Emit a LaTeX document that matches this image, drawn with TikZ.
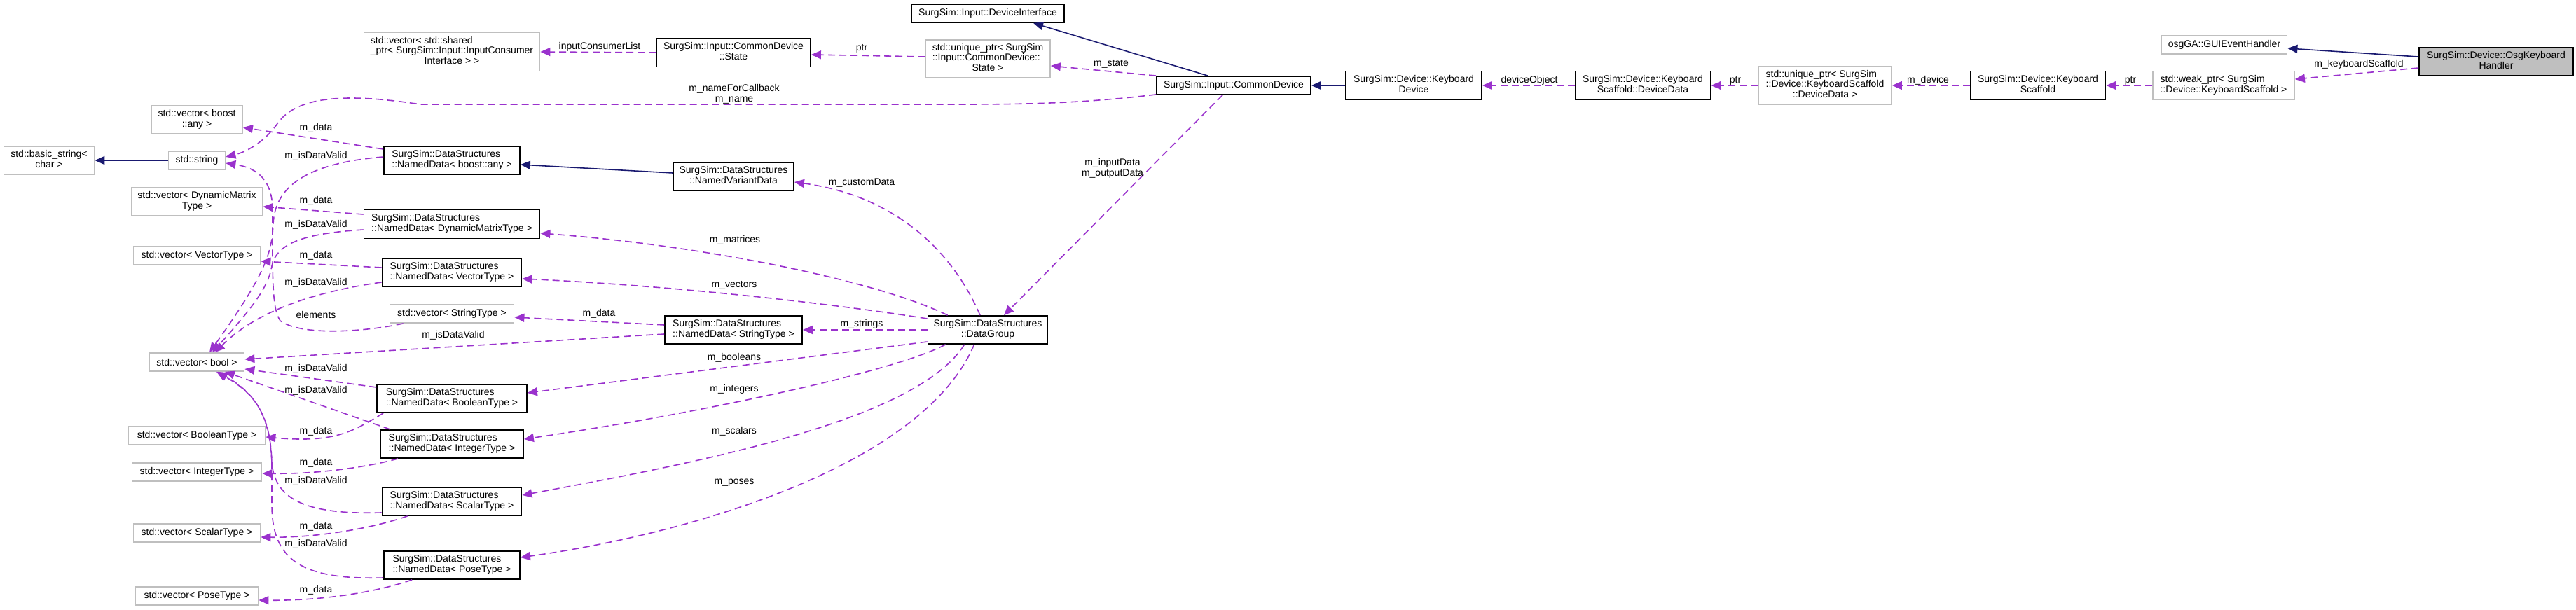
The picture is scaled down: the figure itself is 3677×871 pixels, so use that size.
\documentclass[tikz,border=0pt]{standalone}
\usepackage{fontspec}
\setmainfont{Liberation Sans}
\usepackage{tikz}
\usetikzlibrary{arrows.meta,calc}
\definecolor{inhcol}{HTML}{191970}
\definecolor{usecol}{HTML}{9A32CD}
\definecolor{extgray}{HTML}{BFBFBF}
\newcommand{\dgfont}{\fontsize{7}{7.4}\selectfont}
\newcommand{\twoln}[2]{\begin{tabular}{@{}l@{}}#1\\\multicolumn{1}{@{}c@{}}{#2}\end{tabular}}

\begin{document}
\begin{tikzpicture}[x=0.5pt, y=-0.5pt,
  cls/.style={draw=black, line width=0.9pt, fill=white, inner xsep=3pt, inner ysep=0pt, minimum height=13pt, font=\dgfont},
  ext/.style={cls, draw=extgray},
  root/.style={cls, fill=extgray},
  use/.style={draw=usecol, line width=0.8pt, dash pattern=on 5pt off 3pt, -{Triangle[length=7pt,width=6pt]}},
  inh/.style={draw=inhcol, line width=0.8pt, -{Triangle[length=7pt,width=6pt]}},
  elab/.style={font=\dgfont, inner sep=0pt}]
\useasboundingbox (0,0) rectangle (3677,871);

\node[root, minimum width=110pt, minimum height=20pt] (hdl) at (3563,88) {\twoln{SurgSim::Device::OsgKeyboard}{Handler}};
\node[ext, minimum width=89.5pt] (gui) at (3175,64) {osgGA::GUIEventHandler};
\node[ext, minimum width=101pt, minimum height=20.5pt] (weakp) at (3174,122) {\twoln{std::weak\_ptr< SurgSim}{::Device::KeyboardScaffold >}};
\node[cls, minimum width=96.5pt, minimum height=20.5pt] (scaf) at (2909,122) {\twoln{SurgSim::Device::Keyboard}{Scaffold}};
\node[ext, minimum width=95pt, minimum height=27.5pt] (uniqd) at (2605,122) {\twoln{std::unique\_ptr< SurgSim\\::Device::KeyboardScaffold}{::DeviceData >}};
\node[cls, minimum width=96.5pt, minimum height=20.5pt] (ddata) at (2345,122) {\twoln{SurgSim::Device::Keyboard}{Scaffold::DeviceData}};
\node[cls, minimum width=97pt, minimum height=20.5pt] (kdev) at (2018,122) {\twoln{SurgSim::Device::Keyboard}{Device}};
\node[cls, minimum width=110pt] (cdev) at (1761,122) {SurgSim::Input::CommonDevice};
\node[cls, minimum width=109pt] (dint) at (1410,19) {SurgSim::Input::DeviceInterface};
\node[ext, minimum width=89pt, minimum height=27pt] (uniqs) at (1410,84) {\twoln{std::unique\_ptr< SurgSim\\::Input::CommonDevice::}{State >}};
\node[cls, minimum width=110pt, minimum height=20.5pt] (state) at (1047,75) {\twoln{SurgSim::Input::CommonDevice}{::State}};
\node[ext, minimum width=125.5pt, minimum height=27.5pt] (vcons) at (645,74) {\twoln{std::vector< std::shared\\\_ptr< SurgSim::Input::InputConsumer}{Interface > >}};
\node[cls, minimum width=85.5pt, minimum height=20pt] (dgroup) at (1410,471) {\twoln{SurgSim::DataStructures}{::DataGroup}};
\node[cls, minimum width=86pt, minimum height=20pt] (nvar) at (1047,252) {\twoln{SurgSim::DataStructures}{::NamedVariantData}};
\node[cls, minimum width=98pt, minimum height=20pt] (ndstr) at (1047,471) {\twoln{SurgSim::DataStructures}{::NamedData< StringType >}};

\node[cls, minimum width=97pt, minimum height=20pt] (ndany) at (645,229) {\twoln{SurgSim::DataStructures}{::NamedData< boost::any >}};
\node[cls, minimum width=125.5pt, minimum height=20.5pt] (ndmat) at (645,320) {\twoln{SurgSim::DataStructures}{::NamedData< DynamicMatrixType >}};
\node[cls, minimum width=99.5pt, minimum height=20pt] (ndvec) at (645,389) {\twoln{SurgSim::DataStructures}{::NamedData< VectorType >}};
\node[ext, minimum width=88.5pt] (vstr) at (645,448) {std::vector< StringType >};
\node[cls, minimum width=107pt, minimum height=20pt] (ndbool) at (645,569) {\twoln{SurgSim::DataStructures}{::NamedData< BooleanType >}};
\node[cls, minimum width=102pt, minimum height=20pt] (ndint) at (645,634) {\twoln{SurgSim::DataStructures}{::NamedData< IntegerType >}};
\node[cls, minimum width=99.5pt, minimum height=20pt] (ndsca) at (645,716) {\twoln{SurgSim::DataStructures}{::NamedData< ScalarType >}};
\node[cls, minimum width=97pt, minimum height=20pt] (ndpose) at (645,807) {\twoln{SurgSim::DataStructures}{::NamedData< PoseType >}};

\node[ext, minimum width=65pt, minimum height=20pt] (vany) at (281,171) {\twoln{std::vector< boost}{::any >}};
\node[ext, minimum width=40.5pt] (sstr) at (281,229) {std::string};
\node[ext, minimum width=64.5pt, minimum height=20pt] (bstr) at (70,229) {\twoln{std::basic\_string<}{char >}};
\node[ext, minimum width=93.5pt, minimum height=20pt] (vmat) at (281,288) {\twoln{std::vector< DynamicMatrix}{Type >}};
\node[ext, minimum width=90.5pt] (vvec) at (281,365) {std::vector< VectorType >};
\node[ext, minimum width=67.5pt] (vbool) at (281,517) {std::vector< bool >};
\node[ext, minimum width=97.5pt] (vboolt) at (281,622) {std::vector< BooleanType >};
\node[ext, minimum width=92.5pt] (vint) at (281,674) {std::vector< IntegerType >};
\node[ext, minimum width=90.5pt] (vsca) at (281,761) {std::vector< ScalarType >};
\node[ext, minimum width=87.5pt] (vpose) at (281,851) {std::vector< PoseType >};

\draw[inh] ($(hdl.west)+(0,-7)$) -- ($(gui.east)+(0,5)$);
\draw[use] ($(hdl.west)+(0,9)$) -- ($(weakp.east)+(0,-9)$) node[elab] (lkey) at (3367,92) {m\_keyboardScaffold};
\draw[use] (weakp.west) -- (scaf.east) node[elab] (lptra) at (3041,115) {ptr};
\draw[use] (scaf.west) -- (uniqd.east) node[elab] (ldev) at (2752,115) {m\_device};
\draw[use] (uniqd.west) -- (ddata.east) node[elab] (lptrb) at (2477,115) {ptr};
\draw[use] (ddata.west) -- (kdev.east) node[elab] (lobj) at (2183,115) {deviceObject};
\draw[inh] (kdev.west) -- (cdev.east);
\draw[inh] ($(cdev.north)+(-37,0)$) -- ($(dint.south)+(65,0)$);
\draw[use] (cdev.north west) -- ($(uniqs.east)+(0,10)$) node[elab] (lstate) at (1586,91) {m\_state};
\draw[use] ($(uniqs.west)+(0,-3)$) -- ($(state.east)+(0,3)$) node[elab] (lptrc) at (1230,69) {ptr};
\draw[use] (state.west) -- (vcons.east) node[elab] (lcons) at (856,67) {inputConsumerList};
\draw[use] ($(cdev.south west)+(0,-1)$) .. controls (1560,146) and (1480,149) .. (1380,149) -- (600,149) .. controls (520,137) and (430,130) .. (397,175) .. controls (380,200) and (355,216) .. ($(sstr.east)+(0,-5)$) node[elab, align=center] (lname) at (1048,134) {m\_nameForCallback\\m\_name};
\draw[use] ($(vstr.south west)+(20,0)$) .. controls (520,474) and (430,480) .. (400,458) .. controls (388,440) and (389,400) .. (389,300) .. controls (389,260) and (370,240) .. ($(sstr.east)+(0,4)$) node[elab] (lelem) at (451,449) {elements};
\draw[use] ($(dgroup.north)+(-11,0)$) .. controls (1360,360) and (1280,280) .. ($(nvar.east)+(0,8)$) node[elab] (lcust) at (1230,261) {m\_customData};
\draw[use] ($(cdev.south)+(-16,0)$) -- ($(dgroup.north)+(23,0)$) node[elab, align=center] (lio) at (1588,240) {m\_inputData\\m\_outputData};
\draw[inh] ($(nvar.west)+(0,-5)$) -- ($(ndany.east)+(0,6)$);
\draw[use] ($(dgroup.north west)+(29,0)$) .. controls (1250,400) and (1000,350) .. ($(ndmat.east)+(0,13)$) node[elab] (lmat) at (1049,343) {m\_matrices};
\draw[use] ($(dgroup.west)+(0,-16)$) .. controls (1230,440) and (1000,410) .. ($(ndvec.east)+(0,9)$) node[elab] (lvec) at (1048,407) {m\_vectors};
\draw[use] (dgroup.west) -- (ndstr.east) node[elab] (lstr) at (1230,463) {m\_strings};
\draw[use] ($(dgroup.west)+(0,17)$) -- ($(ndbool.east)+(0,-8)$) node[elab] (lbool) at (1048,511) {m\_booleans};
\draw[use] ($(dgroup.south west)+(26,0)$) .. controls (1280,530) and (1000,590) .. ($(ndint.east)+(0,-7)$) node[elab] (lint) at (1048,556) {m\_integers};
\draw[use] ($(dgroup.south west)+(53,0)$) .. controls (1310,600) and (1000,660) .. ($(ndsca.east)+(0,-9)$) node[elab] (lsca) at (1048,616) {m\_scalars};
\draw[use] ($(dgroup.south west)+(67,0)$) .. controls (1320,660) and (1000,760) .. ($(ndpose.east)+(0,-11)$) node[elab] (lpose) at (1048,689) {m\_poses};

\draw[use] ($(ndany.west)+(0,-16)$) -- ($(vany.east)+(0,11)$) node[elab] (ldany) at (451,183) {m\_data};
\draw[use] ($(ndany.west)+(0,-5)$) .. controls (450,232) and (392,260) .. (390,320) .. controls (388,360) and (380,390) .. ($(vbool.north)+(18,0)$) node[elab] (lvany) at (451,223) {m\_isDataValid};
\draw[use] ($(ndmat.west)+(0,-14)$) -- ($(vmat.east)+(0,7)$) node[elab] (ldmat) at (451,287) {m\_data};
\draw[use] ($(ndmat.west)+(0,8)$) .. controls (440,333) and (395,345) .. (388,380) .. controls (383,410) and (360,440) .. ($(vbool.north)+(22,0)$) node[elab] (lvmat) at (451,321) {m\_isDataValid};
\draw[use] ($(ndvec.west)+(0,-7)$) -- ($(vvec.east)+(0,8)$) node[elab] (ldvec) at (451,365) {m\_data};
\draw[use] ($(ndvec.west)+(0,14)$) .. controls (460,415) and (370,440) .. ($(vbool.north)+(26,0)$) node[elab] (lvvec) at (451,404) {m\_isDataValid};
\draw[use] ($(ndstr.west)+(0,-7)$) -- ($(vstr.east)+(0,5)$) node[elab] (ldstr) at (855,448) {m\_data};
\draw[use] ($(ndstr.west)+(0,6)$) -- ($(vbool.east)+(0,-4)$) node[elab] (lvstr) at (647,479) {m\_isDataValid};
\draw[use] ($(ndbool.west)+(0,-16)$) -- ($(vbool.east)+(0,10)$) node[elab] (lvbool) at (451,527) {m\_isDataValid};
\draw[use] ($(ndbool.south west)+(10,0)$) .. controls (505,615) and (480,633) .. ($(vboolt.east)+(0,2)$) node[elab] (ldbool) at (451,616) {m\_data};
\draw[use] ($(ndint.north west)+(15,0)$) -- ($(vbool.south)+(40,0)$) node[elab] (lvint) at (451,558) {m\_isDataValid};
\draw[use] ($(ndint.south west)+(26,0)$) .. controls (520,668) and (450,677) .. ($(vint.east)+(0,2)$) node[elab] (ldint) at (451,661) {m\_data};
\draw[use] ($(ndsca.west)+(0,16)$) .. controls (440,735) and (392,715) .. (388,660) .. controls (385,600) and (370,565) .. ($(vbool.south)+(30,0)$) node[elab] (lvsca) at (451,687) {m\_isDataValid};
\draw[use] ($(ndsca.south west)+(37,0)$) .. controls (530,755) and (450,768) .. ($(vsca.east)+(0,6)$) node[elab] (ldsca) at (451,752) {m\_data};
\draw[use] ($(ndpose.west)+(0,18)$) .. controls (430,828) and (388,800) .. (388,720) -- (388,660) .. controls (386,600) and (370,565) .. ($(vbool.south)+(28,0)$) node[elab] (lvpose) at (451,777) {m\_isDataValid};
\draw[use] ($(ndpose.south west)+(41,0)$) .. controls (530,848) and (450,858) .. ($(vpose.east)+(0,6)$) node[elab] (ldpose) at (451,843) {m\_data};
\draw[inh] (sstr.west) -- (bstr.east);
\end{tikzpicture}
\end{document}
